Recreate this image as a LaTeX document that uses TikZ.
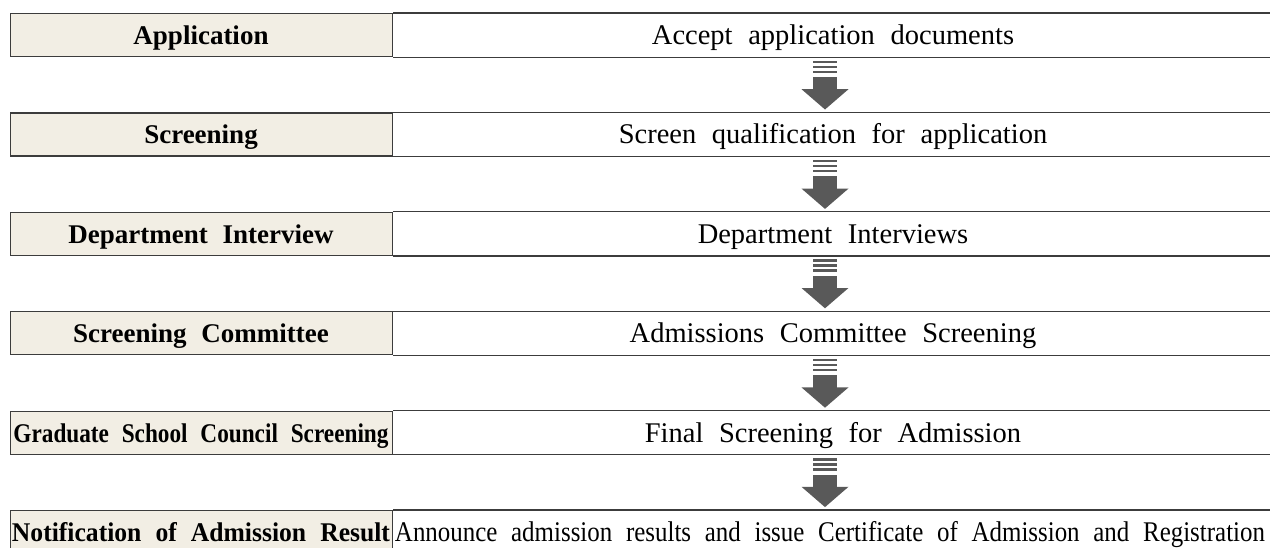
\documentclass[tikz,border=0pt]{standalone}
\usepackage{fontspec}
\usepackage{graphicx}
\setmainfont{Liberation Serif}[WordSpace=2.2]
\definecolor{beige}{RGB}{242,238,228}
\definecolor{arrowgray}{RGB}{89,89,89}
\definecolor{linegray}{RGB}{60,60,60}
\tikzset{
  lbox/.style={draw=linegray,line width=1.2pt,fill=beige,minimum width=382pt,
    minimum height=43pt,inner sep=0pt,anchor=north west},
  ltext/.style={inner sep=0pt,anchor=base,font=\fontsize{27}{30}\selectfont\bfseries},
  rtext/.style={inner sep=0pt,anchor=base,font=\fontsize{28.5}{30}\selectfont},
  rline/.style={draw=linegray,line width=1.2pt},
  fatarrow/.pic={
    \fill[arrowgray] (-12,0) rectangle (12,2.5);
    \fill[arrowgray] (-12,5) rectangle (12,7.5);
    \fill[arrowgray] (-12,10) rectangle (12,12.5);
    \fill[arrowgray] (-12,16.5) rectangle (12,29);
    \fill[arrowgray] (-23.5,28.7) -- (23.5,28.7) -- (0,49) -- cycle;
  }
}
\begin{document}
\begin{tikzpicture}[x=1pt,y=-1pt]
\useasboundingbox (0,0) rectangle (1270,547);
\clip (0,0) rectangle (1270,547);
% rows
\foreach \i/\t in {1/13,2/112.4,3/211.8,4/311.2,5/410.6,6/510}{
  \node[lbox] (l\i) at (10,\t) {};
  \draw[rline] (l\i.north east) -- ++(880,0);
  \draw[rline] (l\i.south east) -- ++(880,0);
}
% left texts
\node[ltext] (lt1) at (201,44.5) {Application};
\node[ltext] (lt2) at (201,143.9) {Screening};
\node[ltext] (lt3) at (201,243.3) {Department Interview};
\node[ltext] (lt4) at (201,342.7) {Screening Committee};
\node[ltext] (lt5) at (201,442.1) {\resizebox{375pt}{\height}{Graduate School Council Screening}};
\node[ltext] (lt6) at (201,541) {\resizebox{378pt}{\height}{Notification of Admission Result}};
% right texts
\node[rtext] (rt1) at (833,44.5) {Accept application documents};
\node[rtext] (rt2) at (833,143.9) {Screen qualification for application};
\node[rtext] (rt3) at (833,243.3) {Department Interviews};
\node[rtext] (rt4) at (833,342.7) {Admissions Committee Screening};
\node[rtext] (rt5) at (833,442.1) {Final Screening for Admission};
\node[rtext] (rt6) at (830,541) {\resizebox{870pt}{\height}{Announce admission results and issue Certificate of Admission and Registration}};
% arrows between rows
\foreach \i in {1,...,5}{
  \coordinate (a\i) at ([yshift=-3.3pt]l\i.south -| 825,0);
  \pic at (a\i) {fatarrow};
}
\end{tikzpicture}
\end{document}
